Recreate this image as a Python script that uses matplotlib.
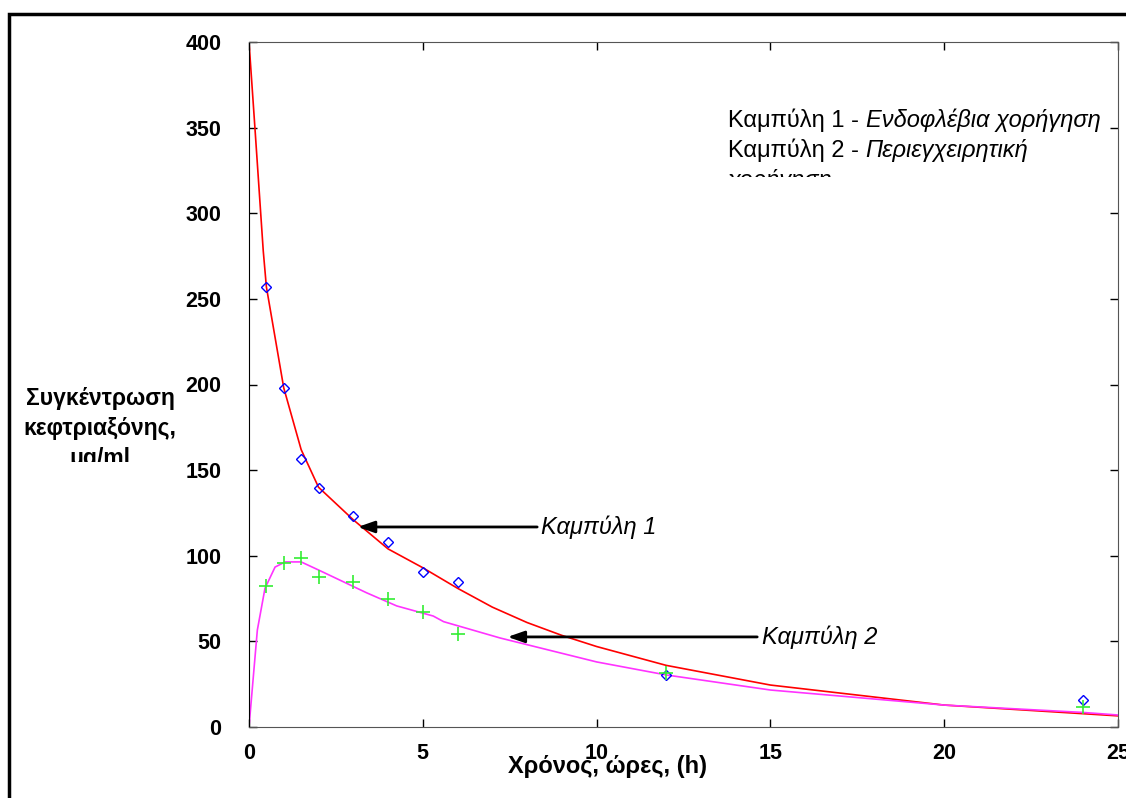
import matplotlib
matplotlib.use('Agg')
import matplotlib.pyplot as plt
from matplotlib.patches import Rectangle

plt.rcParams['font.family'] = ['Liberation Sans', 'DejaVu Sans']

W, H = 1126, 798

# measured points
t_pts = [0.5, 1, 1.5, 2, 3, 4, 5, 6, 12, 24]
c_iv = [257, 198, 156.5, 139.6, 123, 108, 90.5, 84.7, 30.4, 15.8]
c_local = [82.3, 95.8, 98.7, 87.6, 84.7, 74.7, 67.2, 54.3, 31.5, 11.7]

# fitted curves
t_fit1 = [0, 0.17, 0.41, 0.5, 1, 1.5, 2, 3, 4, 5, 6, 7, 8, 9, 10, 12, 15, 20, 25]
c_fit1 = [400, 350, 278, 257, 198, 162, 140, 121, 104, 93, 81, 70, 61, 53.5, 47, 36, 24.5, 12.8, 6.5]
t_fit2 = [0, 0.24, 0.46, 0.75, 1.04, 1.5, 2.04, 3.38, 4.25, 5.3, 5.6, 7.22, 10, 12, 15, 20, 24, 25]
c_fit2 = [0, 56.6, 81, 93.4, 96.4, 96.4, 91.3, 78.4, 70.7, 64.8, 61.5, 52, 38, 30.4, 21.6, 12.8, 8.5, 7]

x_ticks = [0, 5, 10, 15, 20, 25]
y_ticks = [0, 50, 100, 150, 200, 250, 300, 350, 400]

ylabel_lines = ['Συγκέντρωση', 'κεφτριαξόνης,', 'μg/ml']
legend_lines = [('Καμπύλη 1 - ', 'Ενδοφλέβια χορήγηση'),
                ('Καμπύλη 2 - ', 'Περιεγχειρητική'),
                ('', 'χορήγηση')]

fig = plt.figure(figsize=(W/100, H/100), dpi=100)
ax = fig.add_axes([249/W, 1-727/H, (1118-249)/W, (727-42)/H])

ax.plot(t_fit1, c_fit1, color='red', lw=1.2)
ax.plot(t_fit2, c_fit2, color='#ff33ff', lw=1.2)
ax.plot(t_pts, c_iv, ls='none', marker='D', ms=5.5, mfc='none', mec='blue', mew=1.0)
ax.plot(t_pts, c_local, ls='none', marker='+', ms=10, mec='#33ee33', mew=1.2)

ax.set_xlim(0, 25)
ax.set_ylim(0, 400)
ax.set_xticks(x_ticks)
ax.set_yticks(y_ticks)
ax.tick_params(direction='in', length=6, width=1, top=True, right=True,
               labelsize=15.5)
ax.tick_params(axis='y', pad=20)
ax.tick_params(axis='x', pad=11.5)
for lab in ax.get_xticklabels() + ax.get_yticklabels():
    lab.set_fontweight('bold')
ax.spines['left'].set_color('black')
for s in ['top', 'bottom', 'right']:
    ax.spines[s].set_color('#555555')

# arrows with labels
ax.annotate('', xy=(3.05, 116.8), xytext=(8.37, 116.8),
            arrowprops=dict(arrowstyle='-|>,head_length=1.0,head_width=0.35', color='black', lw=2))
ax.text(8.4, 116.8, 'Καμπύλη 1', style='italic', fontsize=17, va='center', ha='left')
ax.annotate('', xy=(7.36, 52.6), xytext=(14.7, 52.6),
            arrowprops=dict(arrowstyle='-|>,head_length=1.0,head_width=0.35', color='black', lw=2))
ax.text(14.75, 52.6, 'Καμπύλη 2', style='italic', fontsize=17, va='center', ha='left')

# legend text box (clipped at its bottom)
leg_clip = Rectangle((0, 1-177/H), 1, 0.3, transform=fig.transFigure)
fig.canvas.draw()
for i, (a, b) in enumerate(legend_lines):
    y = 1 - (127 + 30*i)/H
    t1 = fig.text(728/W, y, a, fontsize=17, va='baseline', ha='left')
    w = t1.get_window_extent(renderer=fig.canvas.get_renderer()).width if a else 0
    t2 = fig.text(728/W + w/W, y, b, fontsize=17, style='italic', va='baseline', ha='left')
    t1.set_clip_path(leg_clip)
    t2.set_clip_path(leg_clip)

# y label (clipped at its bottom)
yl_clip = Rectangle((0, 1-462/H), 0.3, 0.5, transform=fig.transFigure)
for i, line in enumerate(ylabel_lines):
    t = fig.text(100/W, 1-(405 + 30*i)/H, line, fontsize=16.5, fontweight='bold',
                 ha='center', va='baseline')
    t.set_clip_path(yl_clip)

fig.text(607/W, 1-773/H, 'Χρόνος, ώρες, (h)', fontsize=17, fontweight='bold',
         ha='center', va='baseline')

# outer frame
fig.patches.append(Rectangle((9/W, -0.1), 1.2, 1-14/H+0.1, transform=fig.transFigure,
                             fill=False, ec='black', lw=2.5, clip_on=False))

fig.savefig('out.png', dpi=100)
